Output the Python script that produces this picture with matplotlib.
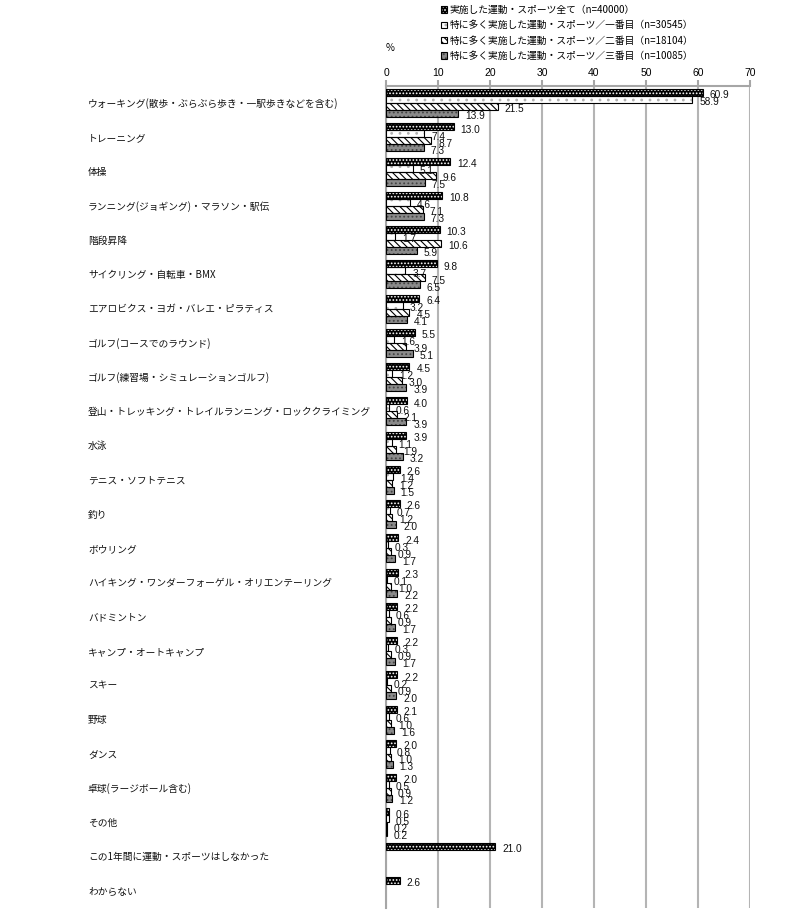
import numpy as np
import matplotlib
matplotlib.use("Agg")
import matplotlib.pyplot as plt
import matplotlib.transforms as mtransforms
from matplotlib.patches import Patch

plt.rcParams["font.family"] = ["Noto Sans CJK JP", "DejaVu Sans"]
plt.rcParams["hatch.linewidth"] = 0.8

categories = [
    "ウォーキング(散歩・ぶらぶら歩き・一駅歩きなどを含む)",
    "トレーニング",
    "体操",
    "ランニング(ジョギング)・マラソン・駅伝",
    "階段昇降",
    "サイクリング・自転車・BMX",
    "エアロビクス・ヨガ・バレエ・ピラティス",
    "ゴルフ(コースでのラウンド)",
    "ゴルフ(練習場・シミュレーションゴルフ)",
    "登山・トレッキング・トレイルランニング・ロッククライミング",
    "水泳",
    "テニス・ソフトテニス",
    "釣り",
    "ボウリング",
    "ハイキング・ワンダーフォーゲル・オリエンテーリング",
    "バドミントン",
    "キャンプ・オートキャンプ",
    "スキー",
    "野球",
    "ダンス",
    "卓球(ラージボール含む)",
    "その他",
    "この1年間に運動・スポーツはしなかった",
    "わからない",
]

series_names = [
    "実施した運動・スポーツ全て（n=40000）",
    "特に多く実施した運動・スポーツ／一番目（n=30545）",
    "特に多く実施した運動・スポーツ／二番目（n=18104）",
    "特に多く実施した運動・スポーツ／三番目（n=10085）",
]

all_sports = [60.9, 13.0, 12.4, 10.8, 10.3, 9.8, 6.4, 5.5, 4.5, 4.0, 3.9, 2.6,
              2.6, 2.4, 2.3, 2.2, 2.2, 2.2, 2.1, 2.0, 2.0, 0.6, 21.0, 2.6]
first = [58.9, 7.4, 5.1, 4.6, 1.7, 3.7, 3.2, 1.6, 1.2, 0.6, 1.1, 1.4,
         0.7, 0.3, 0.1, 0.6, 0.3, 0.2, 0.6, 0.8, 0.5, 0.5, None, None]
second = [21.5, 8.7, 9.6, 7.1, 10.6, 7.5, 4.5, 3.9, 3.0, 2.1, 1.9, 1.2,
          1.2, 0.9, 1.0, 0.9, 0.9, 0.9, 1.0, 1.0, 0.9, 0.2, None, None]
third = [13.9, 7.3, 7.5, 7.3, 5.9, 6.5, 4.1, 5.1, 3.9, 3.9, 3.2, 1.5,
         2.0, 1.7, 2.2, 1.7, 1.7, 2.0, 1.6, 1.3, 1.2, 0.2, None, None]

series = [all_sports, first, second, third]

# face colour, hatch colour, hatch pattern
STYLES = [
    ("#000000", "#ffffff", "....."),
    ("#ffffff", "#b0b0b0", ".."),
    ("#ffffff", "#000000", "\\\\\\\\\\"),
    ("#8a8a8a", "#444444", "...."),
]

W, H = 807, 914
fig = plt.figure(figsize=(W / 100, H / 100), dpi=100)
ax = fig.add_axes([386 / W, 1 - 908 / H, (750 - 386) / W, (908 - 86) / H])

bar_h = 0.205
y = np.arange(len(categories))
for j, (vals, (face, hcol, hatch)) in enumerate(zip(series, STYLES)):
    idx = [i for i, v in enumerate(vals) if v is not None]
    v = np.array([vals[i] for i in idx], dtype=float)
    pos = y[idx] - 0.41 + bar_h * (j + 0.5)
    ax.barh(pos, v, height=bar_h, color=face, edgecolor=hcol, hatch=hatch,
            linewidth=0, zorder=3)
    ax.barh(pos, v, height=bar_h, fill=False, edgecolor="black",
            linewidth=0.8, zorder=4)
    for p, val in zip(pos, v):
        ax.annotate(f"{val:.1f}", (val, p), xytext=(5, -2),
                    textcoords="offset points", fontsize=7.3,
                    va="center", ha="left", color="#111111",
                    family=["Liberation Sans", "DejaVu Sans"], zorder=5)

ax.set_xlim(0, 70)
ax.set_ylim(len(categories) - 0.5, -0.5)
ax.set_xticks(np.arange(0, 71, 10))
ax.xaxis.tick_top()
ax.tick_params(axis="x", length=4, width=1.5, color="#a6a6a6",
               labelsize=7.5, pad=2)
for lab in ax.get_xticklabels():
    lab.set_family(["Liberation Sans", "DejaVu Sans"])
ax.set_yticks([])
ax.xaxis.grid(True, color="#b4b4b4", linewidth=1.5, zorder=0)
for s in ("right", "bottom"):
    ax.spines[s].set_visible(False)
for s in ("top", "left"):
    ax.spines[s].set_color("#a6a6a6")
    ax.spines[s].set_linewidth(1.5)

# category labels, left aligned in the left margin
trans = mtransforms.blended_transform_factory(fig.transFigure, ax.transData)
for i, name in enumerate(categories):
    ax.text(88 / W, i + 0.02, name, transform=trans, ha="left", va="center",
            fontsize=7, color="#111111")

fig.text(386 / W, 1 - 48 / H, "%", fontsize=7, ha="left", va="center")

# legend keys: hatched patch with a black outline on top
handles = [(Patch(facecolor=f, edgecolor=hc, hatch=h, linewidth=0),
            Patch(fill=False, edgecolor="black", linewidth=0.8))
           for f, hc, h in STYLES]
fig.legend(handles, series_names, loc="upper left",
           bbox_to_anchor=(437 / W, 1 - 1 / H), frameon=False, fontsize=7,
           handlelength=0.6, handleheight=0.6, handletextpad=0.3,
           labelspacing=0.55, borderaxespad=0)

fig.savefig("out.png", dpi=100)
